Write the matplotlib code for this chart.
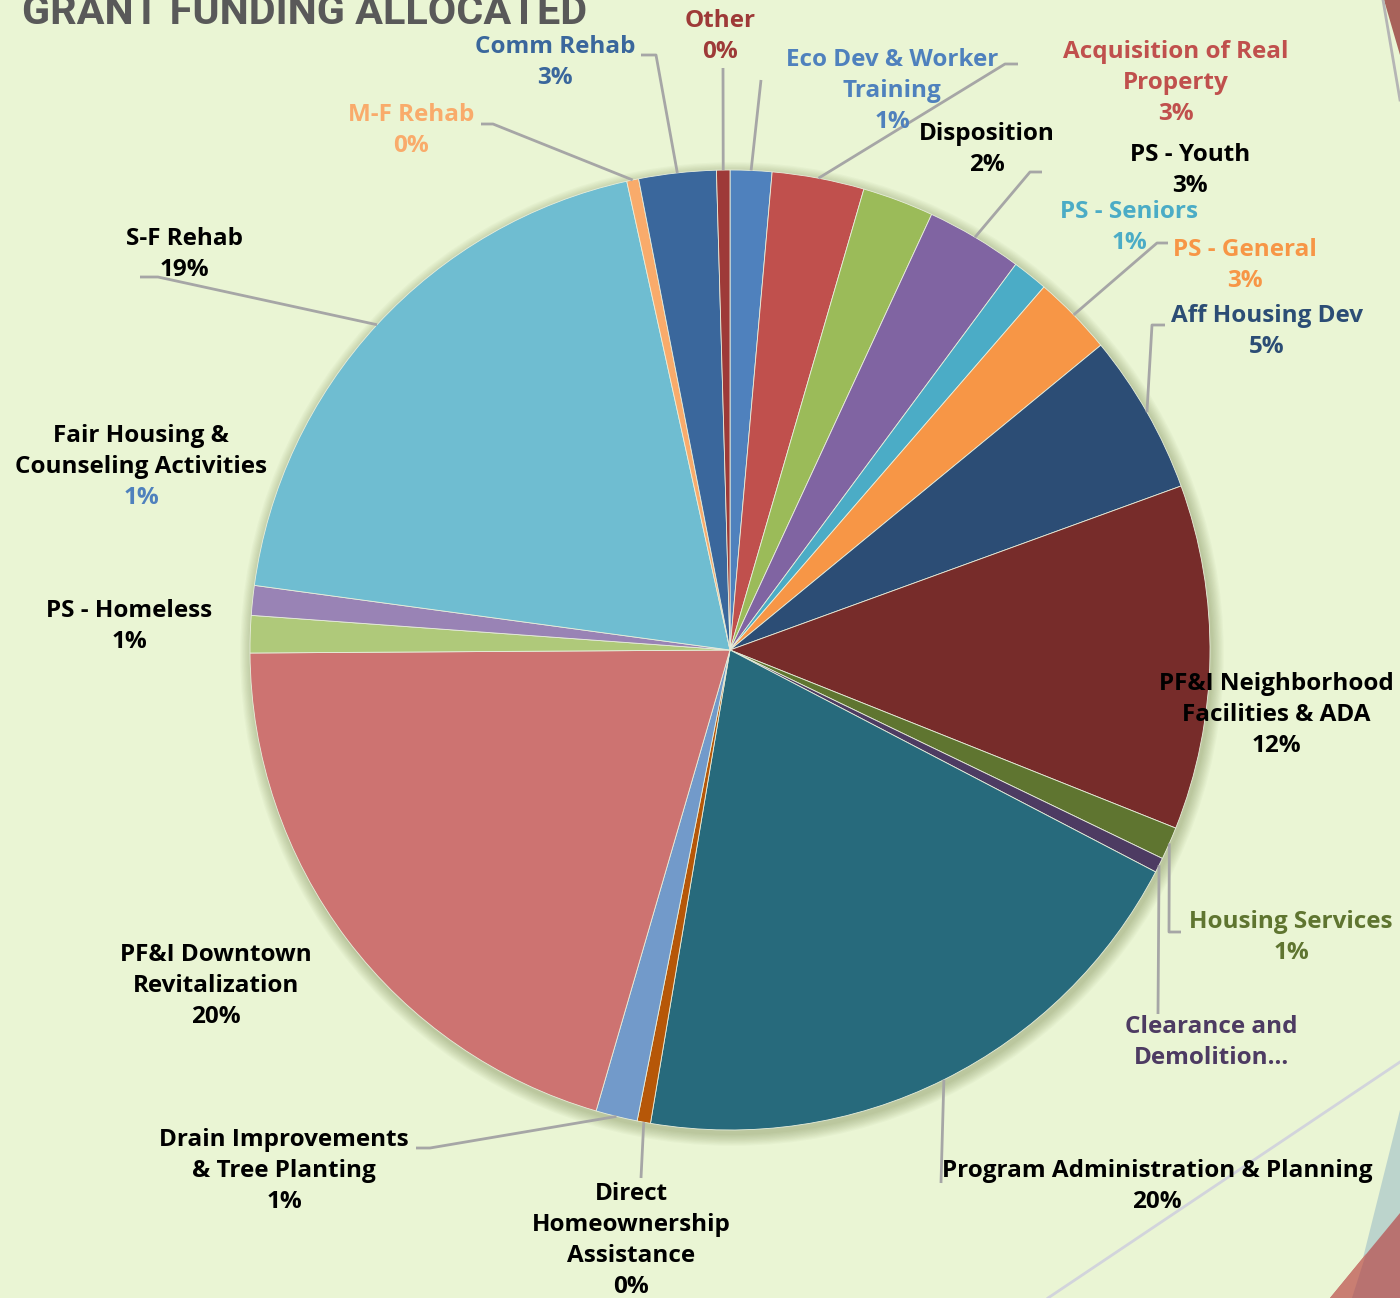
import matplotlib
matplotlib.use("Agg")
import matplotlib.pyplot as plt
from matplotlib.patches import Circle, Polygon
import numpy as np

# ---------------- data ----------------
categories = ["Eco Dev & Worker\nTraining", "Acquisition of Real\nProperty", "Disposition",
              "PS - Youth", "PS - Seniors", "PS - General", "Aff Housing Dev",
              "PF&I Neighborhood\nFacilities & ADA", "Housing Services",
              "Clearance and\nDemolition\u2026", "Program Administration & Planning",
              "Direct\nHomeownership\nAssistance", "Drain Improvements\n& Tree Planting",
              "PF&I Downtown\nRevitalization", "PS - Homeless",
              "Fair Housing &\nCounseling Activities", "S-F Rehab", "M-F Rehab",
              "Comm Rehab", "Other"]
values = [1.4, 3.1, 2.4, 3.25, 1.2, 2.7, 5.4, 11.6, 1.1, 0.5, 20.0, 0.45, 1.4,
          20.4, 1.25, 1.0, 19.4, 0.4, 2.6, 0.45]
show_pct = [True] * 9 + [False] + [True] * 10

slice_colors = ['#4F81BD', '#C0504D', '#9BBB59', '#8064A2', '#4BACC6', '#F79646',
                '#2C4D75', '#772C2A', '#5F7530', '#4D3B62', '#276A7C', '#B65708',
                '#729ACA', '#CD7371', '#AFC97A', '#9983B5', '#6FBDD1', '#F9AB6B',
                '#3A679C', '#9E3A38']
name_colors = ['#4F81BD', '#C0504D', '#000000', '#000000', '#4BACC6', '#F79646',
               '#2C4D75', '#000000', '#5F7530', '#4D3B62', '#000000', '#000000',
               '#000000', '#000000', '#000000', '#000000', '#000000', '#F9AB6B',
               '#3A679C', '#9E3A38']
pct_colors = list(name_colors)
pct_colors[15] = '#4F81BD'

# label anchor (x centre, y of first line centre) in image pixels
label_pos = [(892, 60), (1176, 52), (987, 134), (1190, 155), (1129, 212), (1245, 250),
             (1267, 316), (1276, 684), (1291, 922), (1211, 1027), (1157, 1171),
             (631, 1194), (284, 1140), (216, 955), (129, 611), (141, 436), (184, 239),
             (411, 115), (555, 47), (720, 21)]
# leader-line elbow points (image pixels)
leaders = {0: [(761, 80)], 1: [(1005, 64), (1018, 64)], 3: [(1030, 172), (1042, 172)],
           5: [(1157, 243), (1168, 243)], 6: [(1152, 325), (1165, 325)],
           8: [(1169, 932), (1181, 932)], 9: [(1158, 1014)], 10: [(941, 1183)],
           11: [(641, 1178)], 12: [(430, 1148), (416, 1148)],
           16: [(158, 277), (140, 277)], 17: [(493, 124), (481, 124)],
           18: [(656, 55), (641, 55)], 19: [(723, 68)]}

title = "GRANT FUNDING ALLOCATED"

# ---------------- layout ----------------
W, H = 1400, 1298
BG = '#EAF5D4'
CX, CY, R = 730, 650, 480
LINE = 31

def Y(y):
    return H - y

fam = ['Open Sans', 'DejaVu Sans']
fig = plt.figure(figsize=(W / 100, H / 100), dpi=100, facecolor=BG)
ax = fig.add_axes([0, 0, 1, 1])
ax.set_facecolor(BG)

# decorative shapes
ax.add_patch(Polygon([(1384, Y(0)), (1400, Y(0)), (1400, Y(55))], closed=True,
                     color='#A8625A', lw=0, zorder=1))
ax.plot([1383, 1400], [Y(0), Y(100)], color='#B5B5B5', lw=2, zorder=1)
ax.plot([1048, 1400], [Y(1298), Y(1062)], color='#D2D4DC', lw=2, zorder=1)
ax.add_patch(Polygon([(1400, Y(1110)), (1362, Y(1262)), (1400, Y(1215))], closed=True,
                     color='#BCD4CC', lw=0, zorder=1))
ax.add_patch(Polygon([(1330, Y(1298)), (1400, Y(1213)), (1400, Y(1298))], closed=True,
                     color='#B87270', lw=0, zorder=1))
ax.add_patch(Polygon([(1330, Y(1298)), (1366, Y(1254)), (1352, Y(1298))], closed=True,
                     color='#C97E72', lw=0, zorder=1))

# soft shadow
for i in range(10):
    ax.add_patch(Circle((CX + 2, Y(CY) - 4), R + 1 + i * 1.2, color='#5A6A30',
                        alpha=0.035, lw=0, zorder=2))

wedges, _ = ax.pie(values, colors=slice_colors, startangle=90, counterclock=False,
                   center=(CX, Y(CY)), radius=R,
                   wedgeprops=dict(linewidth=0.6, edgecolor='#E8EEDC'))
for w in wedges:
    w.set_zorder(3)

total = sum(values)

# leader lines
for i, pts in leaders.items():
    w = wedges[i]
    mid = np.deg2rad((w.theta1 + w.theta2) / 2)
    x0 = CX + R * np.cos(mid)
    y0 = Y(CY) + R * np.sin(mid)
    xs = [x0] + [p[0] for p in pts]
    ys = [y0] + [Y(p[1]) for p in pts]
    ax.plot(xs, ys, color='#A6A6A6', lw=2, zorder=4, solid_capstyle='butt')

# labels
FS = 17.5
for i, name in enumerate(categories):
    x, y = label_pos[i]
    lines = name.split('\n')
    for j, ln in enumerate(lines):
        ax.text(x, Y(y + j * LINE), ln, ha='center', va='center', fontsize=FS,
                fontweight='bold', color=name_colors[i], family=fam, zorder=5)
    if show_pct[i]:
        pct = f"{values[i] / total * 100:.0f}%"
        ax.text(x, Y(y + len(lines) * LINE), pct, ha='center', va='center', fontsize=FS,
                fontweight='bold', color=pct_colors[i], family=fam, zorder=5)

# title (cut off at top, as in the source image)
t = ax.text(22, Y(24), title, ha='left', va='baseline', fontsize=36,
            fontweight='bold', color='#595959',
            family=['Liberation Sans Narrow', 'Roboto', 'DejaVu Sans'], zorder=5)
fig.canvas.draw()
bb = t.get_window_extent()
t.set_fontsize(36 * 565 / bb.width)

ax.set_xlim(0, W)
ax.set_ylim(0, H)
ax.set_aspect('equal')
ax.axis('off')
fig.savefig('out.png', dpi=100, facecolor=BG)
